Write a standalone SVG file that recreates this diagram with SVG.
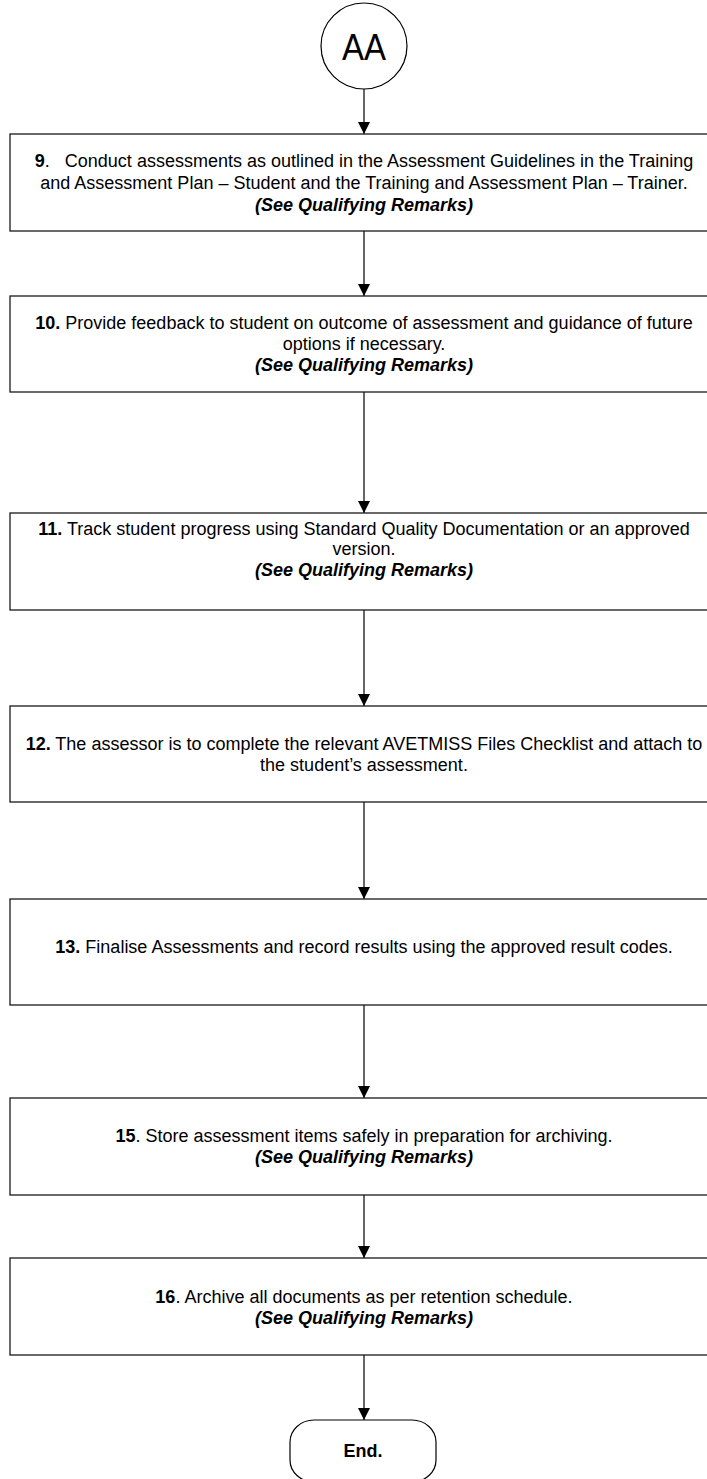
<svg xmlns="http://www.w3.org/2000/svg" width="707" height="1479" viewBox="0 0 707 1479">
<style>
.box{fill:#fff;stroke:#1a1a1a;stroke-width:1.3}
.t{font-family:"Liberation Sans",Arial,sans-serif;font-size:18px;fill:#000;text-anchor:middle}
.b{font-weight:bold}
.bi{font-weight:bold;font-style:italic}
.conn{stroke:#000;stroke-width:1.2;fill:none;marker-end:url(#arr)}
</style>
<defs>
<marker id="arr" markerWidth="12" markerHeight="12" viewBox="0 0 12 12" refX="12" refY="6" orient="auto" markerUnits="userSpaceOnUse">
<path d="M0,0 L12,6 L0,12 Z" fill="#000"/>
</marker>
</defs>
<rect width="707" height="1479" fill="#fff"/>
<g id="connectors">
<line class="conn" x1="364" y1="89" x2="364" y2="134"/>
<line class="conn" x1="364" y1="231" x2="364" y2="296"/>
<line class="conn" x1="364" y1="392" x2="364" y2="513"/>
<line class="conn" x1="364" y1="610" x2="364" y2="706"/>
<line class="conn" x1="364" y1="802" x2="364" y2="899"/>
<line class="conn" x1="364" y1="1005" x2="364" y2="1098"/>
<line class="conn" x1="364" y1="1195" x2="364" y2="1258"/>
<line class="conn" x1="364" y1="1355" x2="364" y2="1420"/>
</g>
<g id="nodeAA">
<circle cx="364" cy="46" r="43" fill="#fff" stroke="#000" stroke-width="1.2"/>
<text class="t" x="364" y="60" style="font-size:37px" textLength="44" lengthAdjust="spacingAndGlyphs">AA</text>
</g>
<g id="node9">
<rect class="box" x="10" y="134" width="708" height="97"/>
<text class="t" x="364" y="167" style="white-space:pre" xml:space="preserve"><tspan class="b">9</tspan>.   Conduct assessments as outlined in the Assessment Guidelines in the Training</text>
<text class="t" x="364" y="189">and Assessment Plan – Student and the Training and Assessment Plan – Trainer.</text>
<text class="t bi" x="364" y="211">(See Qualifying Remarks)</text>
</g>
<g id="node10">
<rect class="box" x="10" y="296" width="708" height="96"/>
<text class="t" x="364" y="329"><tspan class="b">10.</tspan> Provide feedback to student on outcome of assessment and guidance of future</text>
<text class="t" x="364" y="350">options if necessary.</text>
<text class="t bi" x="364" y="371">(See Qualifying Remarks)</text>
</g>
<g id="node11">
<rect class="box" x="10" y="513" width="708" height="97"/>
<text class="t" x="364" y="535"><tspan class="b">11.</tspan> Track student progress using Standard Quality Documentation or an approved</text>
<text class="t" x="364" y="555">version.</text>
<text class="t bi" x="364" y="576">(See Qualifying Remarks)</text>
</g>
<g id="node12">
<rect class="box" x="10" y="706" width="708" height="96"/>
<text class="t" x="364" y="750"><tspan class="b">12.</tspan> The assessor is to complete the relevant AVETMISS Files Checklist and attach to</text>
<text class="t" x="364" y="771">the student’s assessment.</text>
</g>
<g id="node13">
<rect class="box" x="10" y="899" width="708" height="106"/>
<text class="t" x="364" y="953"><tspan class="b">13.</tspan> Finalise Assessments and record results using the approved result codes.</text>
</g>
<g id="node15">
<rect class="box" x="10" y="1098" width="708" height="97"/>
<text class="t" x="364" y="1142"><tspan class="b">15</tspan>. Store assessment items safely in preparation for archiving.</text>
<text class="t bi" x="364" y="1163">(See Qualifying Remarks)</text>
</g>
<g id="node16">
<rect class="box" x="10" y="1258" width="708" height="97"/>
<text class="t" x="364" y="1303"><tspan class="b">16</tspan>. Archive all documents as per retention schedule.</text>
<text class="t bi" x="364" y="1324">(See Qualifying Remarks)</text>
</g>
<g id="nodeEnd">
<rect x="290" y="1420" width="146" height="62" rx="24" ry="22" fill="#fff" stroke="#000" stroke-width="1.2"/>
<text class="t b" x="363" y="1457">End.</text>
</g>
</svg>
